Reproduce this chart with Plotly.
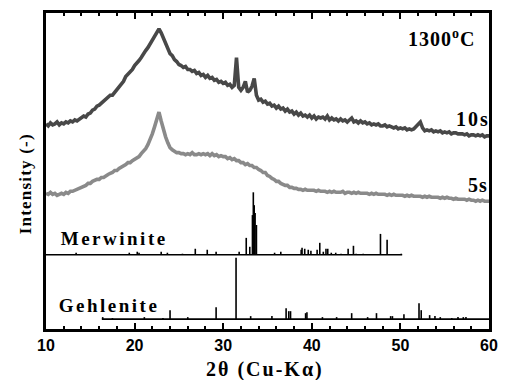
import numpy as np
import plotly.graph_objects as go

# 2-theta grid (0.25 deg step)
two_theta = np.round(np.arange(10.0, 60.001, 0.25), 2)

# 10 s pattern (rows = 4 points per degree)
i_10s = [
    207, 205, 208, 206,  207, 209, 206, 208,  207, 209, 208, 210,  209, 211, 210, 212,
    213, 215, 214, 217,  218, 221, 222, 225,  226, 228, 229, 232,  233, 236, 236, 239,
    241, 244, 247, 250,  255, 257, 260, 262,  266, 268, 271, 274,  278, 281, 284, 288,
    291, 295, 300, 303,  299, 294, 288, 284,  278, 276, 272, 270,  267, 266, 264, 265,
    262, 262, 260, 261,  258, 259, 256, 257,  254, 256, 253, 254,  251, 252, 249, 250,
    248, 249, 246, 247,  244, 246, 274, 244,  241, 244, 250, 239,  241, 245, 253, 236,
    231, 232, 229, 230,  227, 228, 225, 226,  223, 225, 222, 223,  220, 222, 219, 220,
    217, 219, 216, 218,  215, 216, 214, 216,  213, 215, 212, 214,  213, 214, 212, 215,
    211, 213, 211, 212,  210, 212, 210, 211,  209, 211, 213, 209,  210, 208, 210, 208,
    209, 207, 208, 206,  207, 206, 207, 205,  205, 206, 204, 205,  204, 203, 204, 202,
    203, 202, 203, 201,  202, 201, 202, 204,  206, 209, 203, 200,  201, 200, 201, 199,
    200, 199, 200, 198,  199, 198, 199, 197,  198, 198, 197, 197,  197, 196, 197, 195,
    196, 196, 195, 196,  195, 196, 194, 195,  195,
]

# 5 s pattern
i_5s = [
    137, 136, 138, 136,  137, 135, 136, 137,  136, 138, 137, 139,  139, 140, 141, 142,
    143, 144, 145, 147,  147, 149, 150, 151,  151, 153, 153, 155,  156, 157, 158, 160,
    160, 162, 163, 165,  166, 168, 168, 170,  171, 173, 174, 177,  179, 182, 186, 191,
    197, 204, 212, 219,  210, 201, 194, 188,  183, 181, 180, 178,  178, 177, 177, 176,
    177, 176, 178, 176,  176, 177, 176, 177,  176, 177, 175, 177,  175, 176, 174, 175,
    174, 174, 172, 173,  171, 172, 170, 170,  168, 168, 166, 167,  165, 165, 163, 163,
    161, 160, 158, 158,  155, 154, 152, 151,  149, 149, 147, 146,  145, 145, 143, 143,
    142, 142, 141, 141,  140, 141, 140, 140,  140, 140, 139, 140,  139, 139, 139, 138,
    139, 138, 139, 138,  138, 138, 139, 137,  138, 138, 137, 138,  137, 138, 137, 137,
    137, 137, 136, 137,  136, 137, 136, 136,  136, 136, 135, 136,  135, 136, 135, 135,
    135, 135, 134, 135,  134, 135, 134, 134,  134, 134, 133, 134,  133, 134, 133, 133,
    133, 133, 132, 133,  132, 133, 132, 132,  131, 132, 131, 131,  131, 131, 130, 131,
    130, 130, 129, 130,  129, 130, 129, 129,  129,
]

# Reference stick patterns: positions (2theta) and relative intensities
merw_pos = [13.4, 19.4, 20.3, 20.5, 23.0, 23.7, 25.4, 26.85, 28.2, 29.2, 31.8, 32.6, 33.0,
            33.3, 33.4, 33.5, 33.6, 33.75, 35.8, 36.5, 38.8, 38.9, 39.2, 39.6, 39.9, 40.6,
            40.9, 41.3, 41.6, 41.8, 42.2, 42.7, 43.3, 44.1, 44.7, 45.0, 45.8, 47.75, 48.5, 50.1]
merw_int = [2, 2, 3, 2, 3, 2, 1, 6, 5, 3, 3, 17, 8,
            40, 63, 50, 42, 30, 2, 3, 5, 7, 6, 5, 4, 5,
            12, 3, 6, 6, 2, 2, 1, 6, 9, 1, 1, 21, 15, 1]

gehl_pos = [16.4, 17.5, 21.1, 23.2, 24.0, 26.0, 29.2, 31.45, 33.1, 35.5, 37.1, 37.4, 37.6,
            39.3, 39.45, 41.2, 42.8, 44.5, 46.3, 47.3, 48.9, 49.1, 50.4, 52.1, 52.35, 53.3,
            53.9, 54.5, 55.8, 56.5, 57.1, 57.4]
gehl_int = [2, 1, 2, 1, 9, 2, 12, 62, 3, 3, 11, 8, 8,
            6, 7, 2, 2, 6, 2, 6, 3, 3, 5, 16, 9, 4,
            3, 2, 1, 2, 2, 2]

merw_span = [10.0, 50.2]
gehl_span = [16.3, 60.0]
MERW_BASE = 75
GEHL_BASE = 10

x_ticks = [10, 20, 30, 40, 50, 60]

SERIF = "Liberation Serif, Times New Roman, serif"
SANS = "Liberation Sans, Arial, sans-serif"

# plot-area geometry in pixels (for placing the text labels)
L, R, T, B = 46, 491, 10, 329


def px(xp, yp):
    return (xp - L) / (R - L), (B - yp) / (B - T)


def sticks(pos, inten, base):
    xs, ys = [], []
    for p, h in zip(pos, inten):
        xs += [p, p, None]
        ys += [base, base + h, None]
    return xs, ys


fig = go.Figure()
fig.add_trace(go.Scatter(x=two_theta, y=i_10s, mode="lines",
                         line=dict(color="#484848", width=3.6), showlegend=False))
fig.add_trace(go.Scatter(x=two_theta, y=i_5s, mode="lines",
                         line=dict(color="#8a8a8a", width=3.6), showlegend=False))

for pos, inten, base, span in [(merw_pos, merw_int, MERW_BASE, merw_span),
                               (gehl_pos, gehl_int, GEHL_BASE, gehl_span)]:
    xs, ys = sticks(pos, inten, base)
    fig.add_trace(go.Scatter(x=xs, y=ys, mode="lines",
                             line=dict(color="black", width=1.6), showlegend=False))
    fig.add_trace(go.Scatter(x=span, y=[base, base], mode="lines",
                             line=dict(color="black", width=1.6), showlegend=False))

labels = [
    # text, x px, y px, size, xanchor, angle
    ("<b>1300<sup>o</sup>C</b>", 443, 35, 20, "center", 0),
    ("<b>10s</b>", 475, 117, 20, "center", 0),
    ("<b>5s</b>", 480, 184, 20, "center", 0),
    ("<b>Merwinite</b>", 70, 238, 19, "left", 0),
    ("<b>Gehlenite</b>", 68, 305, 19, "left", 0),
    ("<b>2θ (Cu-Kα)</b>", 266, 370, 20, "center", 0),
    ("<b>Intensity (-)</b>", 25, 183, 17, "center", -90),
]
for txt, xp, yp, size, xa, ang in labels:
    xx, yy = px(xp, yp)
    fig.add_annotation(xref="paper", yref="paper", x=xx, y=yy, text=txt,
                       showarrow=False, textangle=ang,
                       font=dict(family=SERIF, size=size, color="black"),
                       xanchor=xa, yanchor="middle")

fig.update_xaxes(range=[10, 60], tickvals=x_ticks, ticktext=[str(t) for t in x_ticks],
                 ticks="inside", ticklen=6, tickwidth=1.5, tickcolor="black",
                 minor=dict(dtick=2, ticks="inside", ticklen=3.5, tickwidth=1.5, tickcolor="black"),
                 showline=True, linewidth=2.5, linecolor="black", mirror="ticks",
                 showgrid=False, zeroline=False,
                 tickfont=dict(family=SANS, size=16, color="black", weight="bold"))
fig.update_yaxes(range=[0, 319], showticklabels=False, ticks="",
                 showline=True, linewidth=2.5, linecolor="black", mirror=True,
                 showgrid=False, zeroline=False)

fig.update_layout(width=508, height=380, margin=dict(l=L, r=508 - R, t=T, b=380 - B),
                  plot_bgcolor="white", paper_bgcolor="white", showlegend=False)

post = """
document.body.style.margin = '0';
document.body.style.padding = '0';
var sp = {'Merwinite': '2.5px', 'Gehlenite': '2.5px', '2θ': '2px', 'Intensity': '1.2px',
          '1300': '1px', '10s': '2px', '5s': '1px'};
document.querySelectorAll('.annotation-text').forEach(function (t) {
  var s = t.textContent;
  for (var k in sp) { if (s.indexOf(k) === 0) { t.style.letterSpacing = sp[k]; } }
});
"""
fig.write_html("out.html", post_script=post, config={"displayModeBar": False})
